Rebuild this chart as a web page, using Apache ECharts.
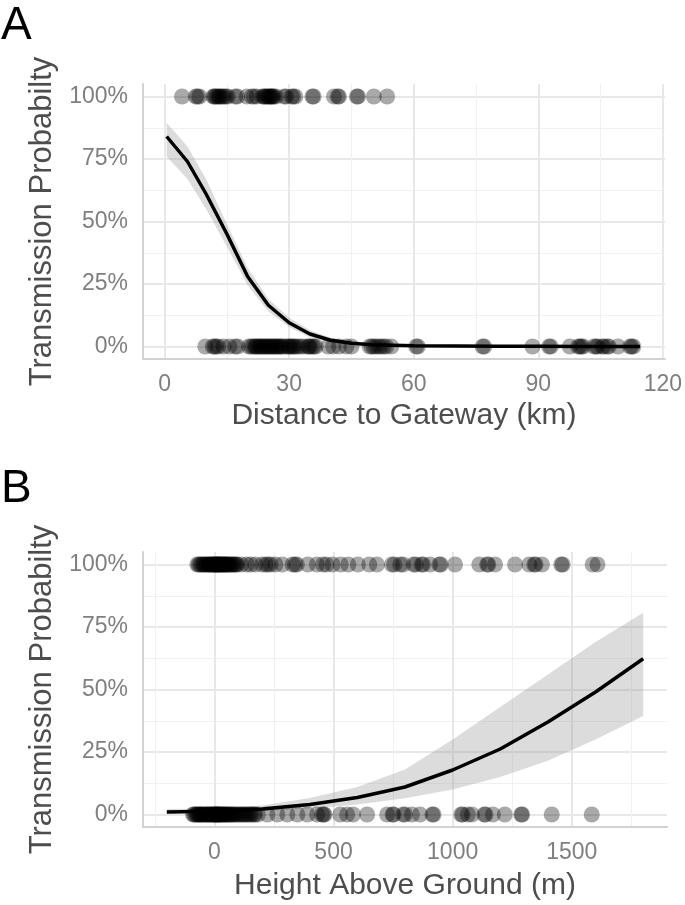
<!DOCTYPE html>
<html>
<head>
<meta charset="utf-8">
<script src="https://cdn.jsdelivr.net/npm/echarts@6/dist/echarts.min.js"></script>
<style>
  html, body { margin: 0; padding: 0; background: #fff; }
  #chart { width: 685px; height: 905px; }
</style>
</head>
<body>
<div id="chart"></div>
<script>
// Panel A - distance to gateway (km)
const distSent = [4.2, 7.5, 7.9, 8.4, 11.7, 12.0, 12.2, 12.6, 13.0, 13.2, 13.5, 14.0, 14.3, 14.8, 15.2, 17.0, 17.5, 19.8, 21.0,
  21.5, 22.2, 23.6, 24.0, 24.1, 24.5, 24.9, 25.0, 25.4, 25.6, 25.8, 26.0, 26.3, 26.8, 28.8, 29.3, 30.6, 31.0, 31.5, 35.6,
  35.9, 40.8, 41.7, 42.0, 46.3, 46.6, 50.4, 53.6];
const distLost = [9.8, 11.6, 12.0, 12.4, 12.9, 14.2, 15.6, 17.0, 17.6, 20.3, 20.8, 21.3, 21.8, 22.3, 22.8, 23.3, 23.8, 24.3,
  24.8, 25.3, 25.8, 26.3, 26.8, 27.3, 27.8, 28.4, 29.0, 29.6, 30.2, 30.8, 31.4, 32.0, 32.6, 33.4, 34.4, 35.0, 35.6, 36.4,
  22.0, 23.0, 24.0, 25.0, 26.0, 27.0, 28.0, 30.0, 31.0, 34.8, 36.0,
  39.4, 40.6, 42.0, 43.8, 45.0, 49.4, 49.9, 50.4, 51.0, 51.6, 52.2, 52.8, 53.4, 54.6, 60.6, 61.0, 76.6, 77.0, 88.6, 92.6,
  93.0, 97.6, 99.6, 100.0, 100.4, 100.8, 103.4, 103.9, 104.3, 105.4, 105.8, 106.6, 107.0, 109.2, 112.1, 112.5, 112.9];
const distFitX = [0.5, 5.5, 10, 15, 20, 25, 30, 35, 40, 45, 50, 60, 70, 80, 90, 100, 114.5];
const distFit  = [0.84, 0.74, 0.61, 0.45, 0.28, 0.165, 0.095, 0.05, 0.025, 0.013, 0.007, 0.003, 0.002, 0.001, 0.001, 0.0005, 0.0003];
const distLo   = [0.76, 0.67, 0.55, 0.40, 0.245, 0.14, 0.078, 0.036, 0.016, 0.007, 0.003, 0.001, 0, 0, 0, 0, 0];
const distHi   = [0.895, 0.80, 0.67, 0.49, 0.315, 0.19, 0.115, 0.065, 0.035, 0.02, 0.012, 0.006, 0.004, 0.003, 0.003, 0.002, 0.002];

// Panel B - height above ground (m)
const heightSent = [-72, -60, -48, -38, -28, -20, -12, -5, 0, 4, 8, 12, 16, 20, 25, 30, 35, 40, 45, 50, 56, 62, 70, 78, 86, 95,
  -66, -54, -44, -33, -24, -16, -8, 2, 10, 18, 28, 38, 48, 60, 74, 90,
  112, 135, 152, 172, 200, 215, 225, 236, 256, 285, 328, 338, 346, 392, 430, 456, 470, 496, 530, 562, 602, 650, 682, 745,
  755, 780, 792, 836, 845, 870, 876, 905, 944, 950, 1010, 1112, 1145, 1150, 1178, 1262, 1322, 1343, 1348, 1375, 1456, 1462, 1588, 1608];
const heightLost = [-90, -80, -70, -62, -55, -48, -40, -34, -28, -22, -16, -10, -5, 0, 3, 6, 10, 14, 18, 22, 27, 32, 38, 44,
  50, 57, 64, 72, 80, 90, 100, 112, 125, 140, 155, 170, 182,
  -85, -75, -66, -58, -44, -30, -18, -2, 8, 16, 30, 42, 55, 68, 85, 105, 120, 135, 150, 165,
  222, 264, 306, 348, 390, 431, 452, 458, 462, 528, 557, 582,
  641, 725, 748, 752, 792, 800, 829, 863, 915, 920, 1036, 1042, 1064, 1081, 1133, 1138, 1169, 1219, 1288, 1292, 1416, 1584];
const heightFitX = [-200, 0, 200, 400, 600, 800, 1000, 1200, 1400, 1600, 1800];
const heightFit  = [0.010, 0.013, 0.022, 0.040, 0.068, 0.11, 0.178, 0.262, 0.37, 0.49, 0.623];
const heightLo   = [0.004, 0.007, 0.013, 0.024, 0.04, 0.065, 0.10, 0.15, 0.215, 0.30, 0.394];
const heightHi   = [0.022, 0.024, 0.036, 0.066, 0.11, 0.18, 0.30, 0.43, 0.56, 0.69, 0.807];

// ticks / grid lines
const distTicks = [0, 30, 60, 90, 120];
const distMinor = [15, 45, 75, 105];
const heightTicks = [0, 500, 1000, 1500];
const heightMinor = [-250, 250, 750, 1250, 1750];
const probTicks = [0, 0.25, 0.5, 0.75, 1];
const probMinor = [0.125, 0.375, 0.625, 0.875];

const FONT = "Liberation Sans";
const chart = echarts.init(document.getElementById("chart"));

function xAxes(grid, min, max, ticks, minor, name, nameGap) {
  return [
    {
      gridIndex: grid, type: "value", min: min, max: max,
      axisLine: { show: true, onZero: false, lineStyle: { color: "#d2d2d2", width: 2 } },
      axisTick: { show: false, customValues: ticks },
      axisLabel: { customValues: ticks, color: "#7f7f7f", fontSize: 23, fontFamily: FONT, margin: 14, formatter: v => String(v) },
      splitLine: { show: true, lineStyle: { color: "#e8e8e8", width: 2 } },
      name: name, nameLocation: "middle", nameGap: nameGap,
      nameTextStyle: { color: "#4d4d4d", fontSize: 30, fontFamily: FONT }
    },
    {
      gridIndex: grid, type: "value", min: min, max: max, position: "bottom",
      axisLine: { show: false }, axisLabel: { show: false },
      axisTick: { show: false, customValues: minor },
      splitLine: { show: true, lineStyle: { color: "#f0f0f0", width: 1 } }
    }
  ];
}

function yAxes(grid) {
  return [
    {
      gridIndex: grid, type: "value", min: -0.05, max: 1.05,
      axisLine: { show: true, onZero: false, lineStyle: { color: "#d2d2d2", width: 2 } },
      axisTick: { show: false, customValues: probTicks },
      axisLabel: {
        customValues: probTicks, color: "#7f7f7f", fontSize: 23, fontFamily: FONT, margin: 15,
        formatter: v => Math.round(v * 100) + "%"
      },
      splitLine: { show: true, lineStyle: { color: "#e8e8e8", width: 2 } },
      name: "Transmission Probabilty", nameLocation: "middle", nameGap: 80,
      nameTextStyle: { color: "#4d4d4d", fontSize: 31, fontFamily: FONT }
    },
    {
      gridIndex: grid, type: "value", min: -0.05, max: 1.05, position: "left",
      axisLine: { show: false }, axisLabel: { show: false },
      axisTick: { show: false, customValues: probMinor },
      splitLine: { show: true, lineStyle: { color: "#f0f0f0", width: 1 } }
    }
  ];
}

function panelSeries(xi, yi, fx, fit, lo, hi, sent, lost) {
  const pointStyle = { color: "rgba(0,0,0,0.42)" };
  return [
    {
      // confidence ribbon drawn as one polygon through the axes' scales
      type: "custom", xAxisIndex: xi, yAxisIndex: yi, clip: true, silent: true,
      data: fx.map((x, i) => [x, lo[i], hi[i]]),
      renderItem: (params, api) => {
        if (params.dataIndex !== 0) return;
        const upper = fx.map((x, i) => api.coord([x, hi[i]]));
        const lower = fx.map((x, i) => api.coord([x, lo[i]])).reverse();
        return {
          type: "polygon",
          shape: { points: upper.concat(lower) },
          style: { fill: "rgba(150,150,150,0.33)" }
        };
      }
    },
    {
      type: "scatter", xAxisIndex: xi, yAxisIndex: yi, symbolSize: 16, itemStyle: pointStyle,
      data: sent.map(x => [x, 1])
    },
    {
      type: "scatter", xAxisIndex: xi, yAxisIndex: yi, symbolSize: 16, itemStyle: pointStyle,
      data: lost.map(x => [x, 0])
    },
    {
      type: "line", xAxisIndex: xi, yAxisIndex: yi, symbol: "none",
      lineStyle: { color: "#000", width: 3.5 }, data: fx.map((x, i) => [x, fit[i]])
    }
  ];
}

const option = {
  animation: false,
  backgroundColor: "#fff",
  textStyle: { fontFamily: FONT },
  grid: [
    { left: 143, top: 84, width: 524, height: 275 },
    { left: 143, top: 552, width: 524, height: 275 }
  ],
  xAxis: [
    ...xAxes(0, -5.2, 120.5, distTicks, distMinor, "Distance to Gateway (km)", 42),
    ...xAxes(1, -300, 1900, heightTicks, heightMinor, "Height Above Ground (m)", 44)
  ],
  yAxis: [...yAxes(0), ...yAxes(1)],
  graphic: [
    { type: "text", left: 1, top: 3, style: { text: "A", fontSize: 46, fontFamily: FONT, fill: "#000" } },
    { type: "text", left: 1, top: 466, style: { text: "B", fontSize: 46, fontFamily: FONT, fill: "#000" } }
  ],
  series: [
    ...panelSeries(0, 0, distFitX, distFit, distLo, distHi, distSent, distLost),
    ...panelSeries(2, 2, heightFitX, heightFit, heightLo, heightHi, heightSent, heightLost)
  ]
};

chart.setOption(option);
window.addEventListener("resize", () => chart.resize());
</script>
</body>
</html>
